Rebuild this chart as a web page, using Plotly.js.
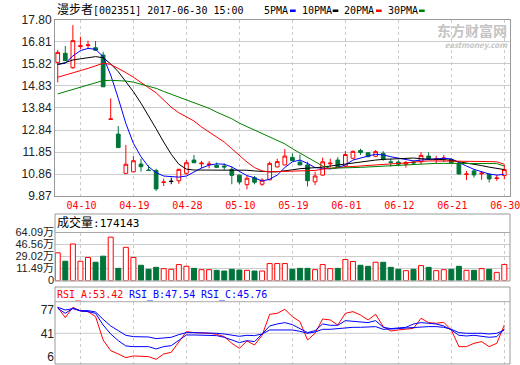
<!DOCTYPE html>
<html><head><meta charset="utf-8">
<script src="https://cdn.plot.ly/plotly-3.0.1.min.js"></script>
<style>html,body{margin:0;padding:0;background:#fff}#chart{width:520px;height:365px}</style>
</head><body><div id="chart"></div>
<script>
// ---------- data ----------
const dates = ['04-05','04-06','04-07','04-10','04-11','04-12','04-13','04-14','04-17','04-18',
 '04-19','04-20','04-21','04-24','04-25','04-26','04-27','04-28','05-02','05-03',
 '05-04','05-05','05-08','05-09','05-10','05-11','05-12','05-15','05-16','05-17',
 '05-18','05-19','05-22','05-23','05-24','05-25','05-26','05-31','06-01','06-02',
 '06-05','06-06','06-07','06-08','06-09','06-12','06-13','06-14','06-15','06-16',
 '06-19','06-20','06-21','06-22','06-23','06-26','06-27','06-28','06-29','06-30'];
const openP  = [15.89,16.30,15.65,16.61,16.65,16.55,16.22,13.32,12.66,10.89,
 10.96,11.31,11.04,11.02,10.48,10.53,10.56,10.89,11.49,11.32,
 11.29,11.25,11.22,11.07,10.81,10.38,10.69,10.40,10.60,11.18,
 11.27,11.61,11.40,11.27,10.51,10.81,11.32,11.49,11.22,11.57,
 11.92,11.82,11.66,11.79,11.41,11.40,11.30,11.40,11.41,11.67,
 11.52,11.55,11.52,11.34,10.84,11.00,10.87,10.85,10.66,10.79];
const highP  = [16.45,16.63,17.57,17.05,16.87,16.85,16.37,14.27,13.02,12.17,
 11.67,11.55,11.25,11.10,10.65,10.70,11.10,11.49,11.72,11.45,
 11.45,11.38,11.34,11.19,10.84,10.77,10.77,10.67,11.42,11.55,
 11.98,11.79,11.74,11.41,10.96,11.60,11.55,11.62,11.90,11.92,
 12.00,11.85,11.94,11.89,11.55,11.47,11.45,11.47,11.85,11.84,
 11.68,11.72,11.57,11.36,11.00,11.07,10.98,10.88,10.82,11.28];
const lowP   = [14.99,15.95,15.60,16.48,16.53,16.40,14.79,13.30,12.04,10.85,
 10.94,10.97,11.02,10.10,10.32,10.40,10.42,10.83,11.35,11.13,
 11.12,11.15,11.05,10.40,10.40,10.17,10.40,10.33,10.58,11.15,
 11.25,11.44,11.25,10.30,10.36,10.78,11.17,11.14,11.18,11.55,
 11.72,11.62,11.62,11.46,11.19,11.22,11.15,11.27,11.30,11.54,
 11.34,11.40,11.35,10.85,10.59,10.70,10.60,10.48,10.56,10.62];
const closeP = [16.34,15.97,16.87,16.64,16.68,16.44,14.79,13.34,12.05,11.30,
 11.46,11.19,11.02,10.19,10.50,10.53,11.07,11.37,11.37,11.35,
 11.31,11.16,11.18,10.80,10.50,10.67,10.49,10.59,11.34,11.42,
 11.67,11.46,11.27,10.56,10.77,11.41,11.35,11.16,11.74,11.88,
 11.83,11.64,11.87,11.52,11.38,11.30,11.38,11.36,11.70,11.56,
 11.54,11.58,11.37,10.86,10.86,10.82,10.90,10.64,10.68,11.06];
// volume in 万 (value at bar top on the volume axis)
const volume = [34.4,22.1,47.3,22.1,27.6,20.6,29.5,57.3,11.7,42.4,
 27.6,16.2,10.3,13.2,11.3,10.3,17.2,14.7,11.7,9.8,
 9.8,8.8,7.8,10.3,9.2,8.8,7.8,7.8,18.7,18.7,
 18.7,10.3,11.7,11.7,9.8,17.2,11.3,11.7,24.6,21.7,
 16.2,14.7,20.6,20.6,13.2,10.3,8.3,10.3,15.7,13.2,
 8.3,9.8,10.3,14.7,8.8,8.8,11.3,10.3,5.8,17.41];
const ma5  = [15.80,15.85,16.18,16.42,16.52,16.48,16.15,15.32,14.27,13.14,
 12.24,11.64,11.19,10.92,10.77,10.74,10.72,10.77,10.95,11.13,
 11.26,11.32,11.30,11.18,10.98,10.79,10.69,10.54,10.63,10.81,
 11.15,11.41,11.49,11.34,11.15,11.12,11.09,11.15,11.27,11.49,
 11.59,11.67,11.75,11.72,11.64,11.57,11.49,11.45,11.49,11.52,
 11.54,11.57,11.54,11.37,11.22,11.07,10.96,10.86,10.81,10.85];
const ma10 = [15.80,15.88,16.00,16.05,16.10,16.15,16.10,15.82,15.47,15.02,
 14.57,14.05,13.50,12.90,12.30,11.75,11.30,11.08,11.04,11.04,
 11.04,11.04,11.04,11.04,11.04,11.03,11.00,10.97,10.96,10.96,
 10.99,11.05,11.10,11.12,11.14,11.17,11.22,11.27,11.31,11.35,
 11.41,11.45,11.49,11.52,11.54,11.57,11.58,11.58,11.55,11.52,
 11.52,11.51,11.48,11.41,11.36,11.30,11.24,11.17,11.12,11.06];
const ma20 = [15.22,15.31,15.40,15.52,15.62,15.74,15.85,15.80,15.62,15.43,
 15.22,14.97,14.75,14.52,14.19,13.87,13.62,13.45,13.25,12.98,
 12.75,12.52,12.30,12.00,11.70,11.40,11.15,11.00,10.96,10.96,
 10.98,10.99,11.00,11.00,11.02,11.08,11.12,11.15,11.18,11.20,
 11.22,11.23,11.25,11.27,11.30,11.33,11.36,11.40,11.43,11.45,
 11.45,11.45,11.45,11.44,11.43,11.42,11.42,11.42,11.41,11.30];
const ma30 = [14.47,14.57,14.68,14.79,14.90,14.99,15.07,15.08,15.07,15.05,
 15.00,14.90,14.82,14.72,14.58,14.45,14.32,14.18,14.07,13.95,
 13.82,13.65,13.50,13.35,13.15,13.00,12.85,12.68,12.55,12.40,
 12.22,12.00,11.80,11.62,11.42,11.22,11.12,11.12,11.13,11.15,
 11.16,11.18,11.20,11.22,11.24,11.26,11.27,11.28,11.33,11.34,
 11.34,11.34,11.34,11.34,11.34,11.34,11.34,11.34,11.33,11.22];
const rsiA = [80,64.5,80,74.5,73.5,66,31,15,10,4.5,
 7,7,6,2,10,12.5,28.5,43.5,42,42,
 41,39.5,36,26,18.5,29.5,23.5,38,69.5,71,
 77,66,58.5,31,41,62.5,61,53.5,71,73.5,
 68.5,61,69.5,51,44.5,46,47.5,48.5,63.5,57,
 56,57.5,46,21,21,26,28.5,21,26,53.42];
const rsiB = [78.5,71,78.5,74.5,73.5,71,53.5,40,30,22,
 21,21,21,17.5,21,22.5,31,38.5,38.5,38.5,
 38,37.5,35,31,27,30,28.5,40,52,55,
 57,54,48,42,45,55,53,53,60,59,
 59,57,60,50,48,48.5,50,55,57,56,
 55,52,46,38,37,38,37,35,36,47.54];
const rsiC = [80,76,78,75,75,73,62,52,45,38,
 36,36,35.5,33,34,35,39,42,42,42,
 41,41,40,38.5,36.5,38,37.5,40,46,46,
 46,46,44,41,43,47,47,48,50,50,
 50,51,51,47,47,48,49,50,51,51,
 51,50,47,42,41,41.5,41,40,41,45.76];
const priceTicks = [9.87,10.86,11.85,12.84,13.84,14.83,15.82,16.81,17.80];
const dateTicks = ['04-10','04-19','04-28','05-10','05-19','06-01','06-12','06-21','06-30'];
const volBase = -6.045;
const volTicks = [volBase,11.49,29.02,46.56,64.09];
const volTickText = ['0','11.49万','29.02万','46.56万','64.09万'];
const rsiTicks = [6,41,77];
const lastVolume = '174143';

// ---------- build ----------
const RED='#ff0000', GREEN='#00743a', BLUE='#0000ff';
const idx = dates.map((d,i)=>i);
const up = idx.filter(i=>closeP[i]>openP[i]);
const dn = idx.filter(i=>closeP[i]<openP[i]);
const flat = idx.filter(i=>closeP[i]===openP[i]);
const pick=(arr,ids)=>ids.map(i=>arr[i]);
const volUp = idx.filter(i=>closeP[i]>=openP[i]);
const volDn = idx.filter(i=>closeP[i]<openP[i]);

const py = y => (364-y)/344;      // pixel row -> paper
const px = x => (x-55)/455;       // pixel col -> paper
const MONO = 'DejaVu Sans Mono, Noto Sans CJK SC, monospace';
const SANS = 'Liberation Sans, Arial, Noto Sans CJK SC, sans-serif';

function candle(ids, incCol, incFill, decCol, decFill){
  return {type:'candlestick', x:pick(idx,ids), open:pick(openP,ids), high:pick(highP,ids),
    low:pick(lowP,ids), close:pick(closeP,ids), xaxis:'x', yaxis:'y', hoverinfo:'skip',
    whiskerwidth:0, showlegend:false,
    increasing:{line:{color:incCol,width:1}, fillcolor:incFill},
    decreasing:{line:{color:decCol,width:1}, fillcolor:decFill}};
}
const traces = [
  candle(up.concat(dn), RED, '#ffffff', GREEN, GREEN),
  candle(flat, '#000000', '#000000', '#000000', '#000000'),
  {type:'scatter', mode:'lines', x:idx, y:ma5, line:{color:BLUE,width:1}, xaxis:'x', yaxis:'y', hoverinfo:'skip', showlegend:false},
  {type:'scatter', mode:'lines', x:idx, y:ma10, line:{color:'#000000',width:1}, xaxis:'x', yaxis:'y', hoverinfo:'skip', showlegend:false},
  {type:'scatter', mode:'lines', x:idx, y:ma20, line:{color:RED,width:1}, xaxis:'x', yaxis:'y', hoverinfo:'skip', showlegend:false},
  {type:'scatter', mode:'lines', x:idx, y:ma30, line:{color:'#008000',width:1}, xaxis:'x', yaxis:'y', hoverinfo:'skip', showlegend:false},
  {type:'bar', x:pick(idx,volUp), y:pick(volume,volUp).map(v=>v-volBase), base:volBase, width:0.66,
    marker:{color:'#ffffff', line:{color:RED,width:1}}, xaxis:'x2', yaxis:'y2', hoverinfo:'skip', showlegend:false},
  {type:'bar', x:pick(idx,volDn), y:pick(volume,volDn).map(v=>v-volBase), base:volBase, width:0.66,
    marker:{color:GREEN, line:{color:GREEN,width:1}}, xaxis:'x2', yaxis:'y2', hoverinfo:'skip', showlegend:false},
  {type:'scatter', mode:'lines', x:idx, y:rsiA, line:{color:RED,width:1}, xaxis:'x3', yaxis:'y3', hoverinfo:'skip', showlegend:false},
  {type:'scatter', mode:'lines', x:idx, y:rsiB, line:{color:BLUE,width:1}, xaxis:'x3', yaxis:'y3', hoverinfo:'skip', showlegend:false},
  {type:'scatter', mode:'lines', x:idx, y:rsiC, line:{color:BLUE,width:1}, xaxis:'x3', yaxis:'y3', hoverinfo:'skip', showlegend:false}
];

const tickIdx = dateTicks.map(d=>dates.indexOf(d));
const xRange = [-0.36, 59.75];
const xBase = {range:xRange, autorange:false, tickmode:'array', tickvals:tickIdx, ticktext:dateTicks,
  showgrid:true, gridcolor:'#cccccc', griddash:'3px,3px', gridwidth:1, zeroline:false, ticks:'', fixedrange:true};

const layout = {
  width:520, height:365, margin:{l:55,r:10,t:20,b:1}, paper_bgcolor:'#fff', plot_bgcolor:'#fff',
  showlegend:false, bargap:0,
  xaxis: Object.assign({}, xBase, {anchor:'y', showline:true, mirror:true, linecolor:'#999', linewidth:1,
    tickfont:{family:MONO, size:10, color:RED}, rangeslider:{visible:false}, ticklabelshift:1,
    ticklabeloverflow:'allow'}),
  xaxis2: Object.assign({}, xBase, {anchor:'y2', showticklabels:false, showline:false}),
  xaxis3: Object.assign({}, xBase, {anchor:'y3', showticklabels:false, showline:false}),
  yaxis: {domain:[py(196),1], range:[9.87,17.80], autorange:false, tickmode:'array', tickvals:priceTicks,
    ticktext:priceTicks.map(v=>v.toFixed(2)), showgrid:true, gridcolor:'#cccccc', zeroline:false,
    showline:true, mirror:true, linecolor:'#999', linewidth:1, ticks:'', tickfont:{family:SANS,size:12,color:'#222'}, fixedrange:true},
  yaxis2: {domain:[py(280.5),py(232.5)], range:[volBase,64.09], autorange:false, tickmode:'array', tickvals:volTicks,
    ticktext:volTickText, showgrid:true, gridcolor:'#cccccc', zeroline:false, showline:false, ticks:'',
    tickfont:{family:SANS,size:11,color:'#222'}, fixedrange:true},
  yaxis3: {domain:[0,py(301.7)], range:[-5.05,88.4], autorange:false, tickmode:'array', tickvals:rsiTicks,
    showgrid:false, zeroline:false, showline:false, ticks:'', tickfont:{family:SANS,size:12,color:'#222'}, fixedrange:true},
  shapes:[
    {type:'rect', xref:'paper', yref:'paper', x0:0, x1:1, y0:py(281), y1:py(214), line:{color:'#999',width:1}},
    {type:'line', xref:'paper', yref:'paper', x0:0, x1:1, y0:py(232.5), y1:py(232.5), line:{color:'#aaa',width:1}},
    {type:'rect', xref:'paper', yref:'paper', x0:0, x1:1, y0:py(364), y1:py(287), line:{color:'#999',width:1}},
    {type:'line', xref:'paper', yref:'paper', x0:0, x1:1, y0:py(301.7), y1:py(301.7), line:{color:'#aaa',width:1}},
    {type:'line', xref:'paper', yref:'y3', x0:0, x1:1, y0:41, y1:41, line:{color:'#cccccc',width:1}, layer:'below'},
    {type:'rect', xref:'paper', yref:'paper', x0:px(290), x1:px(295.7), y0:py(12), y1:py(9.5), line:{width:0}, fillcolor:BLUE},
    {type:'rect', xref:'paper', yref:'paper', x0:px(332.7), x1:px(338.3), y0:py(12), y1:py(9.5), line:{width:0}, fillcolor:'#000'},
    {type:'rect', xref:'paper', yref:'paper', x0:px(376), x1:px(381.7), y0:py(12), y1:py(9.5), line:{width:0}, fillcolor:RED},
    {type:'rect', xref:'paper', yref:'paper', x0:px(419), x1:px(424.7), y0:py(12), y1:py(9.5), line:{width:0}, fillcolor:'#008000'}
  ],
  annotations:[]
};
function note(text, x, y, color, size, family, anchor){
  layout.annotations.push({text:text, xref:'paper', yref:'paper', x:px(x), y:py(y), xanchor:anchor||'left',
    yanchor:'middle', showarrow:false, borderpad:0, font:{family:family||MONO, size:size||10, color:color||'#000'}});
}
note("<span style='font-size:12px'>漫步者</span>[002351] 2017-06-30 15:00", 56, 10);
note('5PMA', 263, 10.5); note('10PMA', 300.5, 10.5); note('20PMA', 343, 10.5); note('30PMA', 386.5, 10.5);
note("<span style='font-size:12px'>成交量</span>:"+lastVolume, 56, 222.5, '#000', 11);
note('RSI_A:'+rsiA[rsiA.length-1].toFixed(2), 56, 294.5, RED);
note('RSI_B:'+rsiB[rsiB.length-1].toFixed(2), 128, 294.5, BLUE);
note('RSI_C:'+rsiC[rsiC.length-1].toFixed(2), 200, 294.5, BLUE);
layout.annotations.push({text:"<span style='font-size:14px'><b>东方财富网</b></span><br><span style='font-size:8px'><b><i>eastmoney.com</i></b></span>",
  xref:'paper', yref:'paper', x:px(509), y:py(35), xanchor:'right', yanchor:'middle', align:'right',
  showarrow:false, borderpad:0, font:{family:'Noto Sans CJK SC, Liberation Sans, sans-serif', size:9, color:'#c4c4c4'}});

Plotly.newPlot('chart', traces, layout, {staticPlot:true, displayModeBar:false});
</script></body></html>
